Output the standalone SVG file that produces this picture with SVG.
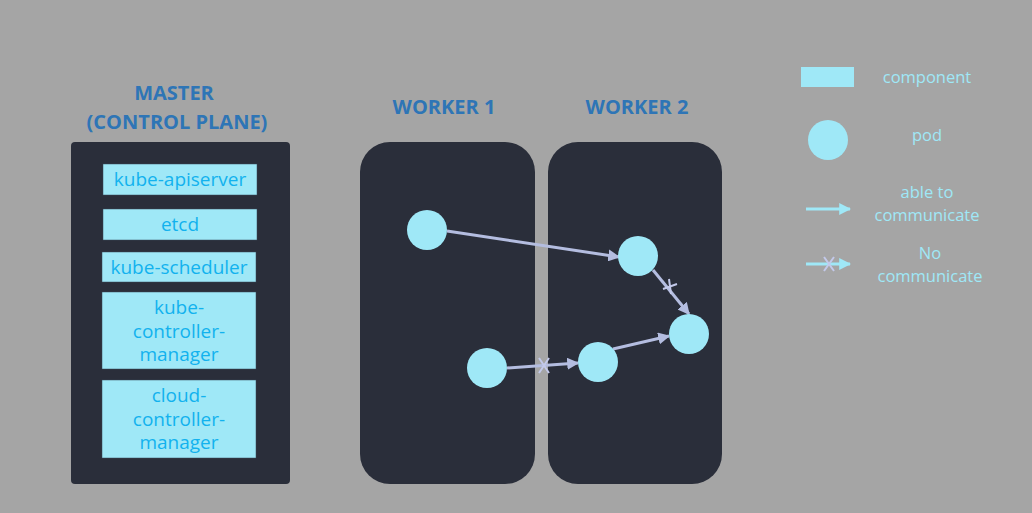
<svg xmlns="http://www.w3.org/2000/svg" width="1032" height="513" viewBox="0 0 1032 513">
<defs>
<style>
.title{font-family:"Open Sans","Liberation Sans",sans-serif;font-weight:bold;font-size:20px;fill:#2e75b6;text-anchor:middle}
.comp{fill:#9fe8f7;stroke:#3a4a5a;stroke-width:0.5}
.ctext{font-family:"Open Sans","Liberation Sans",sans-serif;font-size:19px;fill:#12b2ee;text-anchor:middle}
.pod{fill:#9fe8f7}
.link{stroke:#b4bde0;stroke-width:3;fill:none}
.x{stroke:#c3c9ea;stroke-width:2;fill:none}
.leg{font-family:"Open Sans","Liberation Sans",sans-serif;font-size:16.5px;fill:#9fe8f7;text-anchor:middle}
</style>
<marker id="ah" viewBox="0 0 10 10" refX="9" refY="5" markerWidth="4" markerHeight="4" orient="auto" markerUnits="strokeWidth">
<path d="M0,0 L10,5 L0,10 z" fill="#b4bde0"/>
</marker>
<marker id="ahl" viewBox="0 0 10 10" refX="9" refY="5" markerWidth="4" markerHeight="4" orient="auto" markerUnits="strokeWidth">
<path d="M0,0 L10,5 L0,10 z" fill="#9fe8f7"/>
</marker>
</defs>
<rect width="1032" height="513" fill="#a5a5a5"/>

<g id="master">
<text class="title" x="174" y="100">MASTER</text>
<text class="title" x="177" y="129">(CONTROL PLANE)</text>
<rect x="71" y="142" width="219" height="342" rx="4" fill="#2a2e3a"/>
</g>
<g id="kube-apiserver">
<rect class="comp" x="103" y="164" width="154" height="31"/>
<text class="ctext" x="180" y="186">kube-apiserver</text>
</g>
<g id="etcd">
<rect class="comp" x="103" y="209" width="154" height="31"/>
<text class="ctext" x="180" y="231">etcd</text>
</g>
<g id="kube-scheduler">
<rect class="comp" x="102" y="252" width="154" height="30"/>
<text class="ctext" x="179" y="274">kube-scheduler</text>
</g>
<g id="kube-controller-manager">
<rect class="comp" x="102" y="292" width="154" height="77"/>
<text class="ctext" x="179" y="314">kube-</text>
<text class="ctext" x="179" y="338">controller-</text>
<text class="ctext" x="179" y="361">manager</text>
</g>
<g id="cloud-controller-manager">
<rect class="comp" x="102" y="380" width="154" height="78"/>
<text class="ctext" x="179" y="402">cloud-</text>
<text class="ctext" x="179" y="426">controller-</text>
<text class="ctext" x="179" y="449">manager</text>
</g>

<g id="worker1">
<text class="title" x="444" y="114">WORKER 1</text>
<rect x="360" y="142" width="175" height="342" rx="30" fill="#2a2e3a"/>
</g>
<g id="worker2">
<text class="title" x="637" y="114">WORKER 2</text>
<rect x="548" y="142" width="174" height="342" rx="30" fill="#2a2e3a"/>
</g>

<g id="connectors">
<line class="link" x1="447" y1="231" x2="619" y2="257" marker-end="url(#ah)"/>
<line class="link" x1="653" y1="270" x2="689" y2="314" marker-end="url(#ah)"/>
<path class="x" d="M663,289 L677,284 M669,279 L671,294"/>
<line class="link" x1="507" y1="368" x2="578" y2="363" marker-end="url(#ah)"/>
<path class="x" d="M539,358 L549,373 M549,358 L539,373"/>
<line class="link" x1="613" y1="349" x2="669" y2="336" marker-end="url(#ah)"/>
</g>

<g id="pod1"><circle class="pod" cx="427" cy="230" r="20"/></g>
<g id="pod2"><circle class="pod" cx="638" cy="256" r="20"/></g>
<g id="pod3"><circle class="pod" cx="689" cy="334" r="20"/></g>
<g id="pod4"><circle class="pod" cx="487" cy="368" r="20"/></g>
<g id="pod5"><circle class="pod" cx="598" cy="362" r="20"/></g>

<g id="legend">
<rect x="801" y="67" width="53" height="20" fill="#9fe8f7"/>
<text class="leg" x="927" y="83">component</text>
<circle class="pod" cx="828" cy="140" r="20"/>
<text class="leg" x="927" y="141">pod</text>
<line x1="806" y1="209" x2="850" y2="209" stroke="#9fe8f7" stroke-width="3" marker-end="url(#ahl)"/>
<text class="leg" x="927" y="198">able to</text>
<text class="leg" x="927" y="221">communicate</text>
<line x1="806" y1="264" x2="850" y2="264" stroke="#9fe8f7" stroke-width="3" marker-end="url(#ahl)"/>
<path class="x" d="M824,257 L834,271 M834,257 L824,271"/>
<text class="leg" x="930" y="259">No</text>
<text class="leg" x="930" y="282">communicate</text>
</g>
</svg>
